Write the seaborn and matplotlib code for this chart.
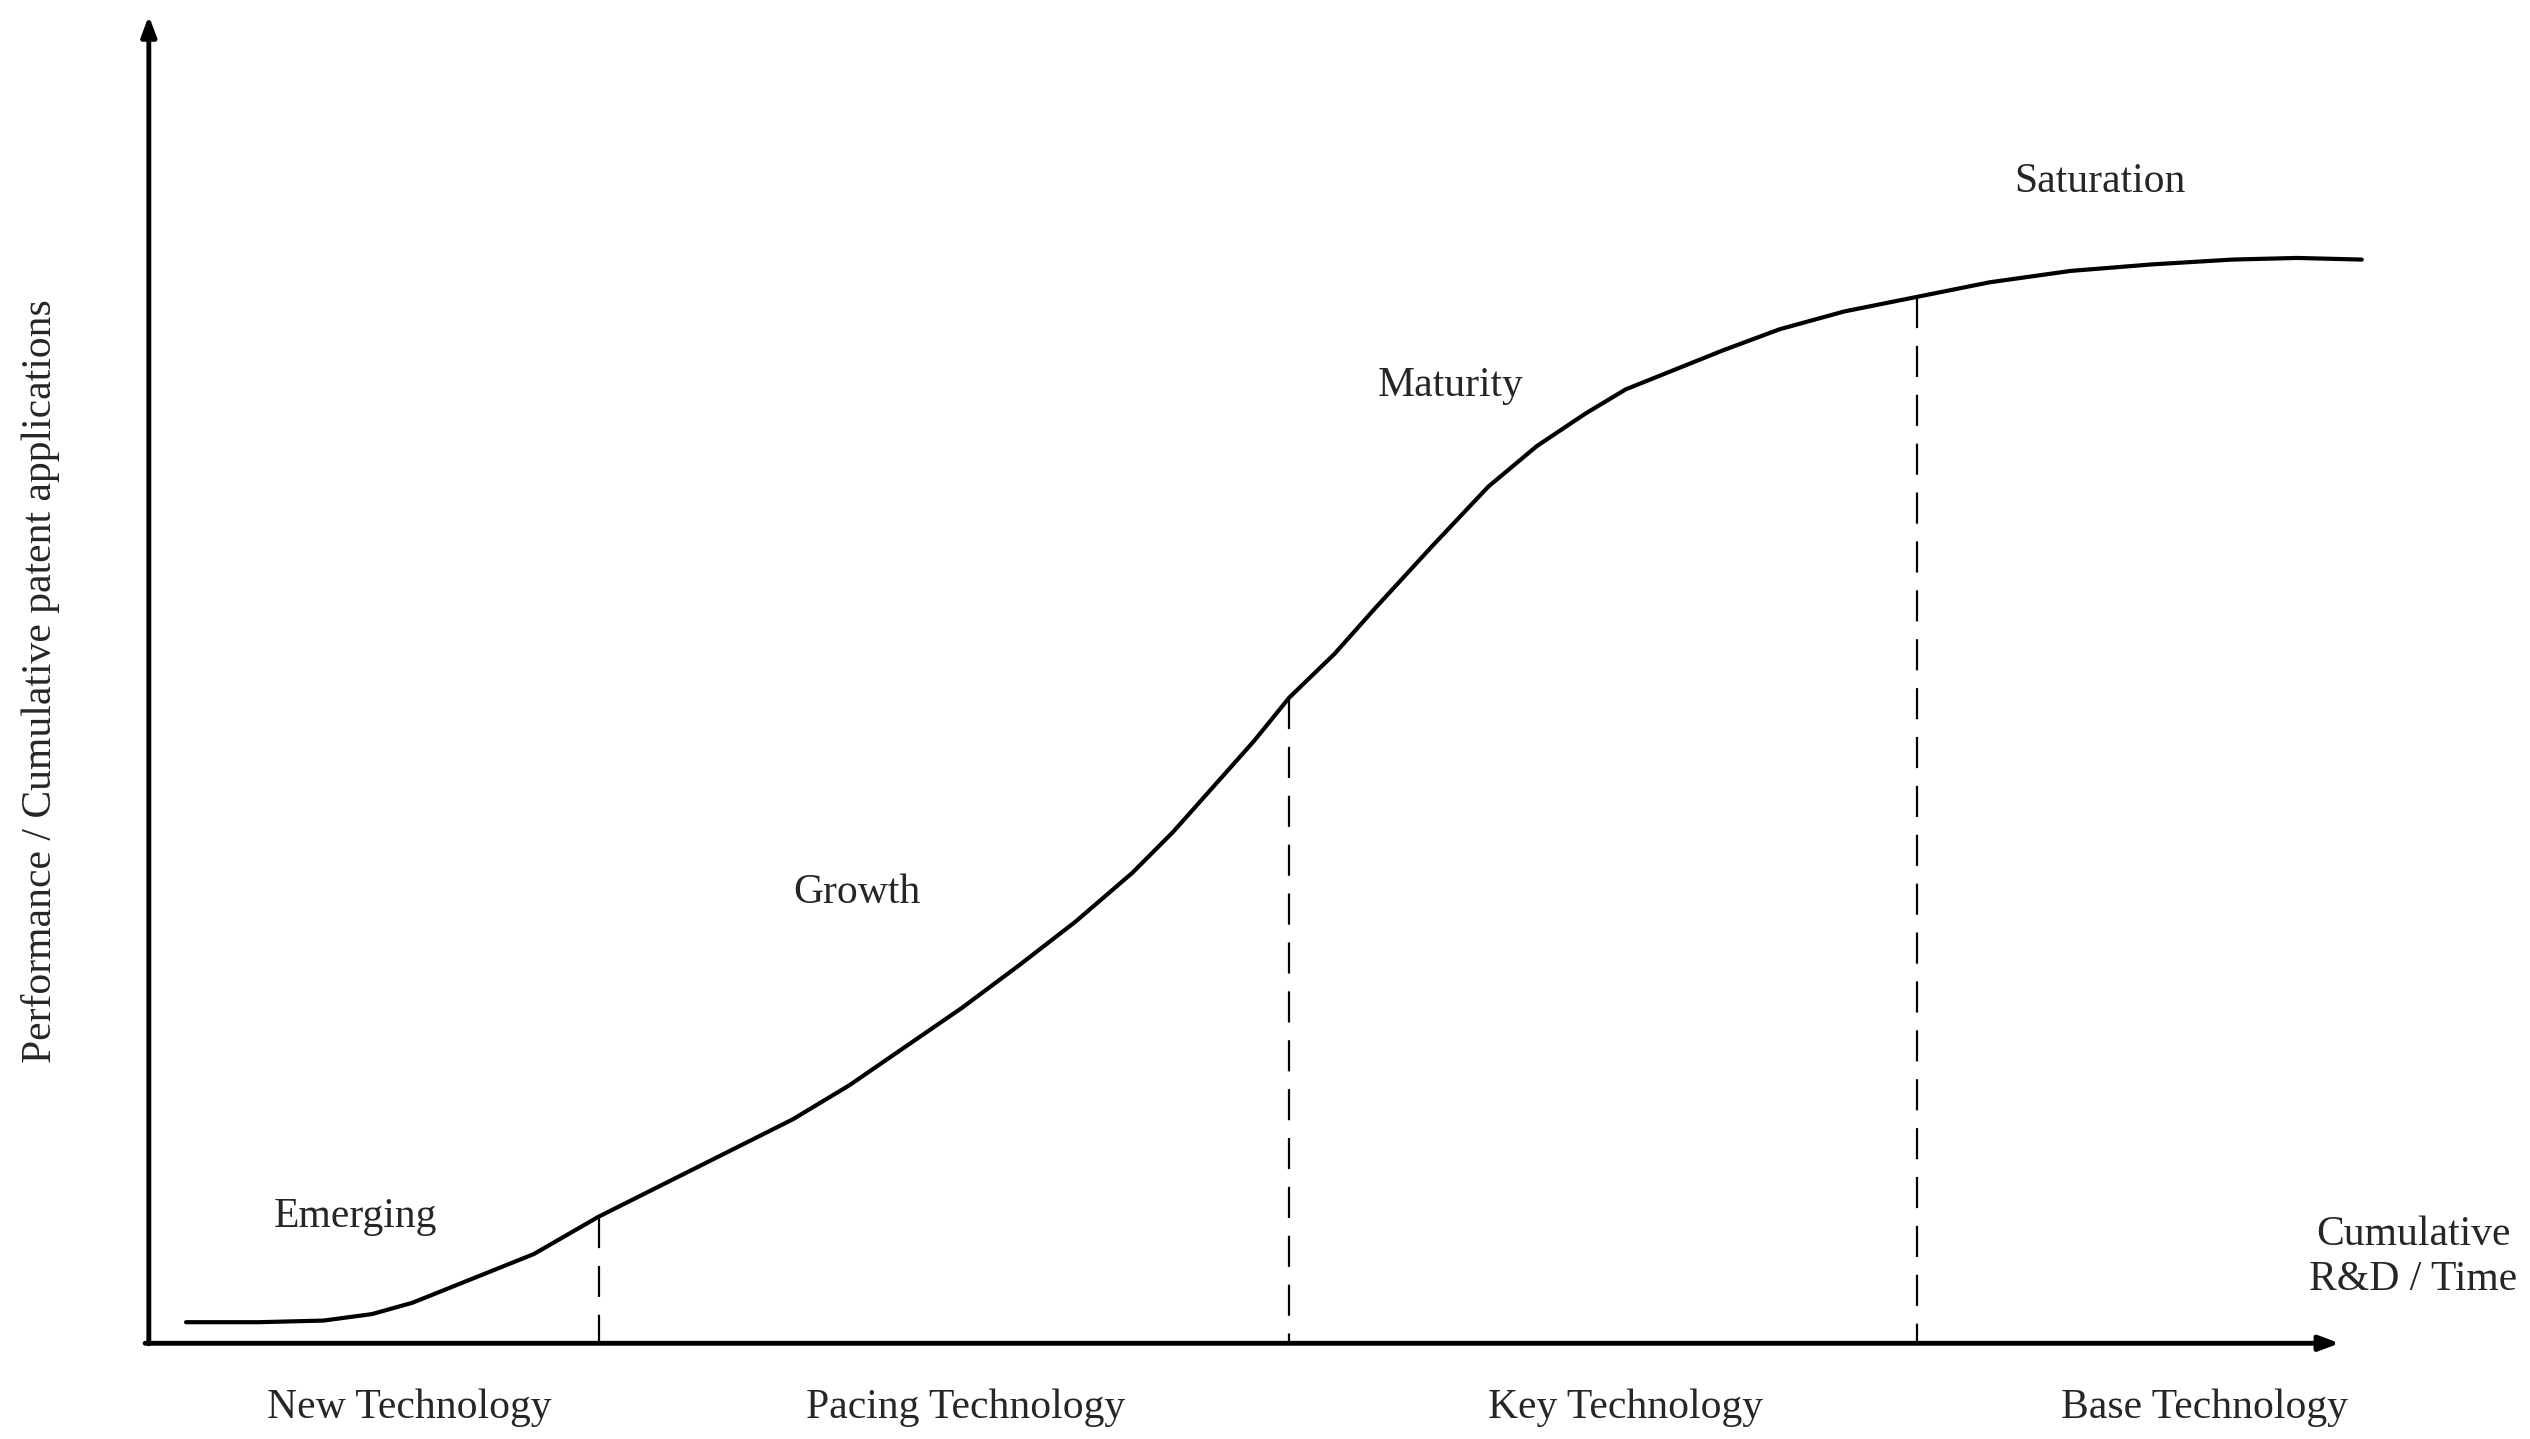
import matplotlib
matplotlib.use('Agg')
import matplotlib.pyplot as plt
import seaborn as sns
import pandas as pd

# curve (x = cumulative R&D / time, y = performance, image-space units)
curve_x = [115, 160, 200, 230, 255, 280, 300, 330, 370, 420, 490, 525, 560,
           595, 630, 665, 700, 725, 750, 775, 797, 825, 850, 885, 920, 950,
           980, 1005, 1030, 1065, 1100, 1140, 1185, 1230, 1280, 1330, 1380,
           1420, 1460]
curve_y = [815, 815, 814, 810, 803, 793, 785, 773, 750, 725, 690, 669, 645,
           621, 595, 568, 538, 513, 485, 457, 430, 403, 375, 337, 300, 275,
           255, 240, 230, 216, 203, 192, 183, 174, 167, 163, 160, 159, 160]
boundaries = [370, 797, 1185]
boundary_tops = [750, 430, 183]
stages = ['Emerging', 'Growth', 'Maturity', 'Saturation']
stage_pos = [(220, 750), (530, 550), (897, 238), (1298, 112)]
tech = ['New Technology', 'Pacing Technology', 'Key Technology', 'Base Technology']
tech_x = [253, 597, 1005, 1363]

W, H = 1564, 887
sns.set_style('white')
plt.rcParams['font.family'] = ['Liberation Serif', 'DejaVu Serif']

fig = plt.figure(figsize=(25.3, 14.39), dpi=100)
ax = fig.add_axes([0, 0, 1, 1])
ax.set_xlim(0, W)
ax.set_ylim(H, 0)
ax.axis('off')

df = pd.DataFrame({'x': curve_x, 'y': curve_y})
sns.lineplot(data=df, x='x', y='y', ax=ax, color='black', linewidth=3, sort=False)

for bx, top in zip(boundaries, boundary_tops):
    ax.plot([bx, bx], [top, 828], color='black', linewidth=1.6, dashes=(14, 8))

arrow = dict(arrowstyle='-|>,head_length=1.2,head_width=0.45', color='black', lw=3.5)
ax.annotate('', xy=(92, 8), xytext=(92, 830), arrowprops=arrow)
ax.annotate('', xy=(1448, 828), xytext=(88, 828), arrowprops=arrow)

fs = 30
for name, (sx, sy) in zip(stages, stage_pos):
    ax.text(sx, sy, name, ha='center', va='center', fontsize=fs)
for name, tx in zip(tech, tech_x):
    ax.text(tx, 868, name, ha='center', va='center', fontsize=fs)
ax.text(1492, 775, 'Cumulative\nR&D / Time', ha='center', va='center',
        fontsize=fs, linespacing=1.2)
ax.text(25, 420, 'Performance / Cumulative patent applications', rotation=90,
        ha='center', va='center', fontsize=fs)

fig.savefig('out.png', dpi=100, facecolor='white')
